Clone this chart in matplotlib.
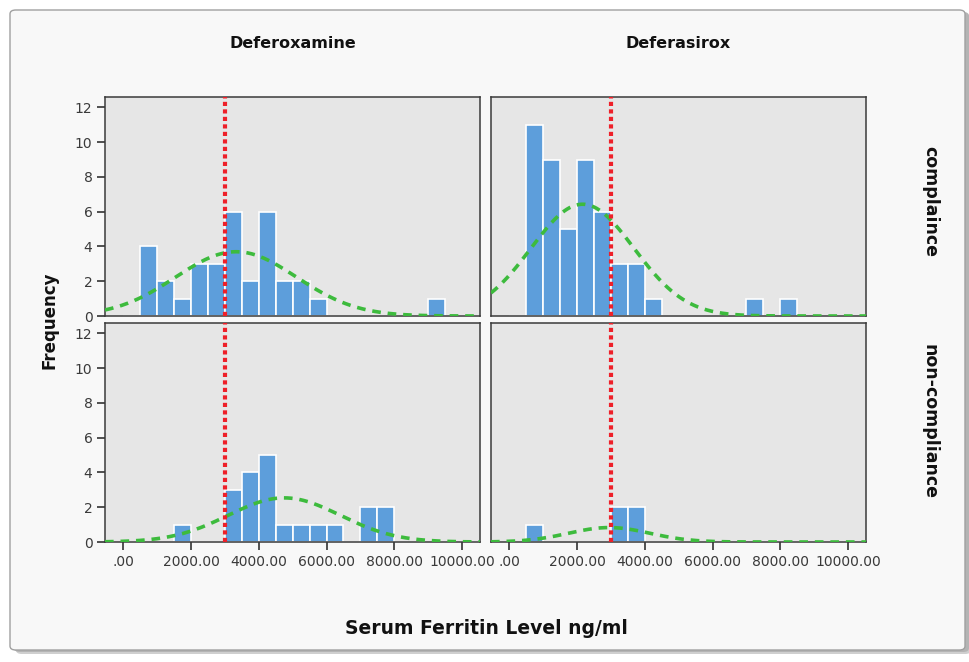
import numpy as np
import matplotlib
matplotlib.use('Agg')
import matplotlib.pyplot as plt
from matplotlib.patches import FancyBboxPatch

plt.rcParams['font.family'] = ['DejaVu Sans']

# --- data (bins of 500 ng/ml) ---
bin_width = 500
bin_edges = np.arange(0, 10500, bin_width)  # left edges 0..10000

drugs = ["Deferoxamine", "Deferasirox"]
groups = ["complaince", "non-compliance"]

# counts indexed by bin left edge
dfo_comp = {500: 4, 1000: 2, 1500: 1, 2000: 3, 2500: 3, 3000: 6, 3500: 2,
            4000: 6, 4500: 2, 5000: 2, 5500: 1, 9000: 1}
dfx_comp = {500: 11, 1000: 9, 1500: 5, 2000: 9, 2500: 6, 3000: 3, 3500: 3,
            4000: 1, 7000: 1, 8000: 1}
dfo_noncomp = {1500: 1, 3000: 3, 3500: 4, 4000: 5, 4500: 1, 5000: 1, 5500: 1,
               6000: 1, 7000: 2, 7500: 2}
dfx_noncomp = {500: 1, 3000: 2, 3500: 2}

# fitted normal curve parameters (mean, sd) per panel
dfo_comp_fit = (3330, 1780)
dfx_comp_fit = (2160, 1520)
dfo_noncomp_fit = (4750, 1650)
dfx_noncomp_fit = (2950, 1200)

cutoff = 3000
x_ticks = [0, 2000, 4000, 6000, 8000, 10000]
x_ticklabels = [".00", "2000.00", "4000.00", "6000.00", "8000.00", "10000.00"]
y_ticks = [0, 2, 4, 6, 8, 10, 12]

panels = [[(dfo_comp, dfo_comp_fit), (dfx_comp, dfx_comp_fit)],
          [(dfo_noncomp, dfo_noncomp_fit), (dfx_noncomp, dfx_noncomp_fit)]]

W, H = 970, 662
fig = plt.figure(figsize=(W / 100, H / 100), dpi=100, facecolor='white')

# outer frame with a soft shadow
for off, col in [(4, '#cfcfcf'), (2, '#b4b4b4')]:
    fig.patches.append(FancyBboxPatch((12 / W + off / W, 12 / H - off / H), 955 / W, 640 / H,
                                      boxstyle="round,pad=0,rounding_size=0.006",
                                      transform=fig.transFigure, facecolor=col,
                                      edgecolor='none', zorder=-2))
fig.patches.append(FancyBboxPatch((10 / W, 12 / H), 955 / W, 640 / H,
                                  boxstyle="round,pad=0,rounding_size=0.006",
                                  transform=fig.transFigure, facecolor='#f8f8f8',
                                  edgecolor='#a0a0a0', linewidth=1.0, zorder=-1))

lefts = [105, 491]
tops = [97, 323]
pw, ph = 375, 219
xlim = (-540, 10530)
ylim = (0, 12.6)
xs = np.linspace(xlim[0], xlim[1], 400)

for r in range(2):
    for c in range(2):
        counts, (mu, sd) = panels[r][c]
        ax = fig.add_axes([lefts[c] / W, 1 - (tops[r] + ph) / H, pw / W, ph / H])
        ax.set_facecolor('#e6e6e6')
        heights = [counts.get(int(e), 0) for e in bin_edges]
        ax.bar(bin_edges, heights, width=bin_width, align='edge',
               color='#5d9edb', edgecolor='white', linewidth=1.2, zorder=2)
        n = sum(counts.values())
        curve = n * bin_width * np.exp(-0.5 * ((xs - mu) / sd) ** 2) / (sd * np.sqrt(2 * np.pi))
        ax.plot(xs, curve, color='#3dbb3d', lw=2.6, linestyle=(0, (2.4, 1.9)), zorder=3)
        ax.axvline(cutoff, color='#ee2029', lw=3, linestyle=(0, (1.0, 0.8)), zorder=4)
        ax.set_xlim(*xlim)
        ax.set_ylim(*ylim)
        for s in ax.spines.values():
            s.set_color('#3a3a3a')
            s.set_linewidth(1.1)
        ax.tick_params(direction='out', length=5.5, width=1.2, color='#333333',
                       labelsize=10, labelcolor='#3a3a3a')
        ax.set_xticks(x_ticks)
        ax.set_yticks(y_ticks)
        if r == 1:
            ax.set_xticklabels(x_ticklabels)
        else:
            ax.tick_params(axis='x', length=0, labelbottom=False)
        if c == 0:
            ax.set_yticklabels([str(t) for t in y_ticks])
        else:
            ax.tick_params(axis='y', length=0, labelleft=False)

# column headers
for c, name in enumerate(drugs):
    fig.text((lefts[c] + pw / 2) / W, 1 - 43 / H, name, ha='center', va='center',
             fontsize=11.5, fontweight='bold', color='#111111')

# row headers
for r, yc in enumerate([201, 422]):
    fig.text(930 / W, 1 - yc / H, groups[r], ha='center', va='center',
             rotation=-90, fontsize=12.5, fontweight='bold', color='#111111')

fig.text(50 / W, 1 - 320 / H, "Frequency", ha='center', va='center', rotation=90,
         fontsize=12, fontweight='bold', color='#111111')
fig.text(486 / W, 1 - 628 / H, "Serum Ferritin Level ng/ml", ha='center', va='center',
         fontsize=13.5, fontweight='bold', color='#111111')

fig.savefig('out.png', dpi=100, facecolor='white')
